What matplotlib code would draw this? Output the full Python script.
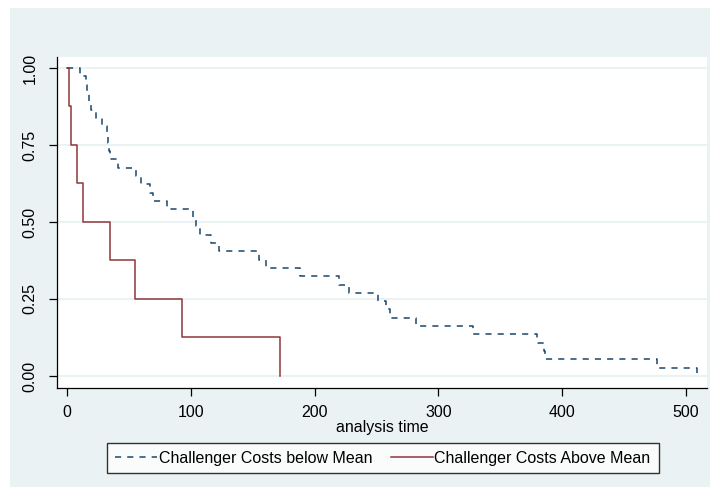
import numpy as np
import matplotlib
matplotlib.use('Agg')
import matplotlib.pyplot as plt
from matplotlib.patches import Rectangle

plt.rcParams['font.family'] = ['Liberation Sans', 'DejaVu Sans']

# Kaplan-Meier steps
below_t = [0, 10, 15, 16, 18, 19, 23, 28, 32, 33, 34, 35, 41, 56, 60, 67, 69, 81,
           102, 104, 107, 116, 123, 155, 161, 188, 220, 228, 251, 258, 261, 282,
           328, 380, 385, 386, 477, 509]
below_s = [1.0, 0.973, 0.946, 0.919, 0.892, 0.865, 0.838, 0.811, 0.784, 0.757,
           0.730, 0.703, 0.676, 0.649, 0.622, 0.595, 0.568, 0.541, 0.514, 0.486,
           0.459, 0.432, 0.405, 0.378, 0.351, 0.324, 0.297, 0.270, 0.243, 0.216,
           0.189, 0.162, 0.135, 0.108, 0.081, 0.054, 0.027, 0.0]

above_t = [0, 1.5, 3, 8, 13, 35, 55, 93, 172]
above_s = [1.0, 0.875, 0.75, 0.625, 0.5, 0.375, 0.25, 0.125, 0.0]

yticks = [0, 0.25, 0.5, 0.75, 1.0]
ylabels = ['0.00', '0.25', '0.50', '0.75', '1.00']
xticks = [0, 100, 200, 300, 400, 500]

bg = '#EAF2F3'
navy = '#1A476F'
maroon = '#90353B'

fig = plt.figure(figsize=(7.10, 4.87), dpi=100, facecolor='white')
fig.patches.append(Rectangle((10 / 710, 0), 1, (487 - 8) / 487,
                             transform=fig.transFigure, facecolor=bg,
                             edgecolor='none', zorder=-10))

ax = fig.add_axes([57 / 710, 99 / 487, 650 / 710, 331 / 487])
ax.set_facecolor('white')

ax.step(below_t, below_s, where='post', color=navy, lw=1.1,
        linestyle=(0, (4, 4)), label='Challenger Costs below Mean')
ax.step(above_t, above_s, where='post', color=maroon, lw=1.1,
        label='Challenger Costs Above Mean')

ax.set_xlim(-8.2, 517)
ax.set_ylim(-0.039, 1.0357)

ax.set_yticks(yticks)
ax.set_yticklabels(ylabels, rotation=90, va='center')
ax.set_xticks(xticks)
ax.yaxis.grid(True, color=bg, lw=1.5)
ax.set_axisbelow(True)

for s in ['top', 'right']:
    ax.spines[s].set_visible(False)
for s in ['left', 'bottom']:
    ax.spines[s].set_color('black')
    ax.spines[s].set_linewidth(0.9)

ax.tick_params(axis='both', length=6, width=0.9, labelsize=11.5, colors='black')
ax.tick_params(axis='x', pad=6)
ax.tick_params(axis='y', pad=8)
ax.set_xlabel('analysis time', fontsize=11.5, labelpad=0)

leg = fig.legend(loc='center', bbox_to_anchor=(383 / 710, 29 / 487), ncol=2,
                 frameon=True, fancybox=False, edgecolor='black', fontsize=11.5,
                 handlelength=2.6, handletextpad=0.1, columnspacing=1.2,
                 borderpad=0.5)
leg.get_frame().set_linewidth(1.0)

fig.savefig('out.png', dpi=100, facecolor=fig.get_facecolor())
